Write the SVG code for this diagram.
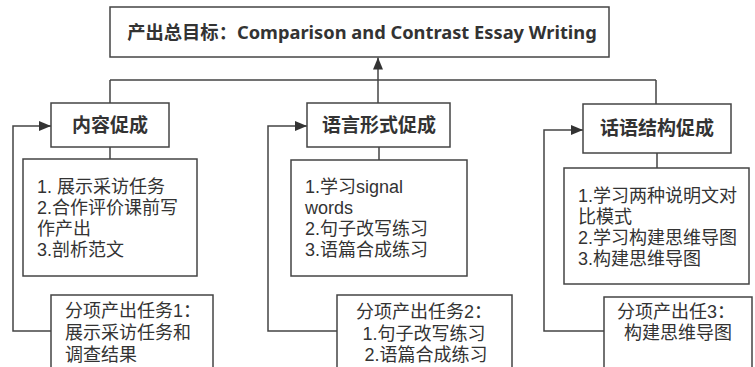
<svg xmlns="http://www.w3.org/2000/svg" width="755" height="367" viewBox="0 0 755 367">
<defs>
<marker id="ah" viewBox="0 0 12 10" refX="12" refY="5" markerWidth="12" markerHeight="10" markerUnits="userSpaceOnUse" orient="auto">
<path d="M0,0 L12,5 L0,10 z" fill="#333"/>
</marker>
</defs>
<style>
.box{fill:#fff;stroke:#444;stroke-width:1.5}
.ln{fill:none;stroke:#444;stroke-width:1.5}
text{font-family:"Noto Sans","Noto Sans CJK SC",sans-serif;fill:#333}
.hd{font-weight:bold;font-size:19px;text-anchor:middle}
.tt{font-weight:bold;font-size:18.3px;text-anchor:middle}
.bd{font-family:"Liberation Sans","Noto Sans CJK SC",sans-serif;font-size:18px}
.mid{text-anchor:middle}
</style>
<rect width="755" height="367" fill="#fff"/>
<g id="connectors">
<path class="ln" d="M110,80 H656 M110,80 V103 M656,80 V104"/>
<path class="ln" d="M378,103 V57.5" marker-end="url(#ah)"/>
<path class="ln" d="M110,147 V159 M379,147 V160 M657,153 V168"/>
<path class="ln" d="M51,331 H13 V126 H51" marker-end="url(#ah)"/>
<path class="ln" d="M337,331 H268 V126 H307" marker-end="url(#ah)"/>
<path class="ln" d="M604,331 H544 V130 H583" marker-end="url(#ah)"/>
</g>
<g id="goal">
<rect class="box" x="110" y="7" width="499" height="50"/>
<text class="tt" x="362" y="39">产出总目标：Comparison and Contrast Essay Writing</text>
</g>
<g id="content">
<rect class="box" x="51" y="103" width="118" height="44"/>
<text class="hd" x="110" y="132">内容促成</text>
</g>
<g id="content-list">
<rect class="box" x="23" y="159" width="174" height="117"/>
<text class="bd" x="37" y="193">1. 展示采访任务</text>
<text class="bd" x="37" y="214">2.合作评价课前写</text>
<text class="bd" x="37" y="235">作产出</text>
<text class="bd" x="37" y="256">3.剖析范文</text>
</g>
<g id="task1">
<rect class="box" x="51" y="295" width="162" height="80"/>
<text class="bd" x="65" y="317">分项产出任务1：</text>
<text class="bd" x="65" y="339">展示采访任务和</text>
<text class="bd" x="65" y="361">调查结果</text>
</g>
<g id="language">
<rect class="box" x="307" y="103" width="143" height="44"/>
<text class="hd" x="379" y="132">语言形式促成</text>
</g>
<g id="language-list">
<rect class="box" x="291" y="160" width="176" height="116"/>
<text class="bd" x="305" y="193">1.学习signal</text>
<text class="bd" x="305" y="214">words</text>
<text class="bd" x="305" y="235">2.句子改写练习</text>
<text class="bd" x="305" y="256">3.语篇合成练习</text>
</g>
<g id="task2">
<rect class="box" x="337" y="295" width="175" height="80"/>
<text class="bd mid" x="424" y="318">分项产出任务2：</text>
<text class="bd mid" x="424" y="340">1.句子改写练习</text>
<text class="bd mid" x="426" y="361">2.语篇合成练习</text>
</g>
<g id="structure">
<rect class="box" x="583" y="104" width="148" height="49"/>
<text class="hd" x="657" y="135">话语结构促成</text>
</g>
<g id="structure-list">
<rect class="box" x="564" y="168" width="185" height="116"/>
<text class="bd" x="578" y="202">1.学习两种说明文对</text>
<text class="bd" x="578" y="223">比模式</text>
<text class="bd" x="578" y="244">2.学习构建思维导图</text>
<text class="bd" x="578" y="265">3.构建思维导图</text>
</g>
<g id="task3">
<rect class="box" x="604" y="297" width="148" height="80"/>
<text class="bd mid" x="676" y="318">分项产出任3：</text>
<text class="bd mid" x="678" y="339">构建思维导图</text>
</g>
</svg>
